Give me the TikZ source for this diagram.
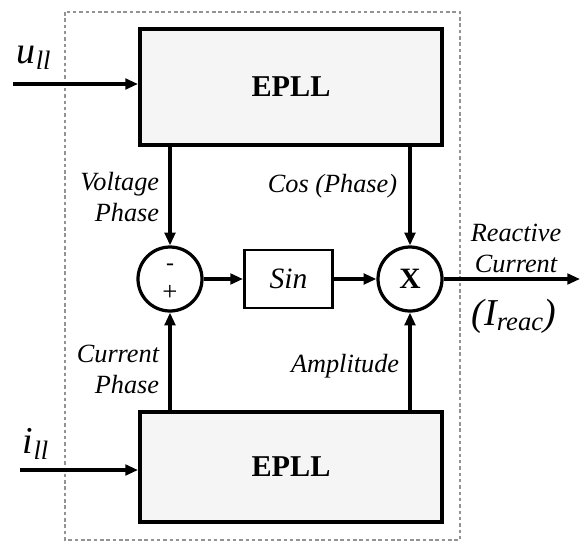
\documentclass[tikz,border=0pt]{standalone}
\usepackage{fontspec}
\setmainfont{Liberation Serif}
\usepackage{tikz}
\usetikzlibrary{arrows.meta}
\usetikzlibrary{positioning}

\tikzset{
    eplbox/.style={draw, line width=2.8pt, fill=gray!8, minimum width=7.55cm,
        font=\fontsize{21.5}{23}\selectfont\bfseries},
    sinbox/.style={draw, line width=2pt, minimum width=2.2cm, minimum height=1.45cm,
        font=\fontsize{21}{23}\selectfont\itshape},
    opcirc/.style={draw, circle, line width=2.3pt, minimum size=1.6cm, inner sep=0pt},
    flow/.style={line width=2.2pt, -{Triangle[length=9pt, width=7.5pt]}},
    lbl/.style={font=\fontsize{18.7}{22}\selectfont\itshape, inner sep=1pt}
}

\begin{document}
\begin{tikzpicture}
    \useasboundingbox (0,0) rectangle (14.525,-13.65);

    % Outer dashed frame
    \draw[gray!85, line width=1.2pt, dash pattern=on 2.5pt off 2pt] (1.625,-0.3) rectangle (11.5,-13.5);

    % The two EPLL blocks
    \node[eplbox, minimum height=2.9cm] (epllu) at (7.275,-2.175) {EPLL};
    \node[eplbox, minimum height=2.75cm] (eplli) at (7.275,-11.675) {EPLL};

    % Summing junction, sine and multiplier
    \node[opcirc] (sum) at (4.25,-6.975) {};
    \node[font=\fontsize{17}{18}\selectfont] (minus) at (4.25,-6.68) {-};
    \node[font=\fontsize{19}{20}\selectfont] (plus) at (4.25,-7.32) {+};
    \node[sinbox] (sine) at (7.21,-6.975) {Sin};
    \node[opcirc, font=\fontsize{21}{23}\selectfont\bfseries] (mult) at (10.25,-6.975) {X};

    % Inputs and output
    \coordinate (uin) at (0.325,-2.1);
    \coordinate (iin) at (0.5,-11.75);
    \coordinate (iout) at (14.5,-6.975);
    \node[font=\fontsize{27}{28}\selectfont\itshape] (ulbl) at (0.85,-1.45) {u\textsubscript{ll}};
    \node[font=\fontsize{27}{28}\selectfont\itshape] (ilbl) at (0.9,-11.1) {i\textsubscript{ll}};

    \draw[flow] (uin) -- (uin -| epllu.west);
    \draw[flow] (iin) -- (iin -| eplli.west);

    % Phase and amplitude paths
    \draw[flow] (epllu.south -| sum) -- (sum.north);
    \draw[flow] (epllu.south -| mult) -- (mult.north);
    \draw[flow] (eplli.north -| sum) -- (sum.south);
    \draw[flow] (eplli.north -| mult) -- (mult.south);

    \draw[flow] (sum.east) -- (sine.west);
    \draw[flow] (sine.east) -- (mult.west);
    \draw[flow] (mult.east) -- (iout);

    % Signal names
    \node[lbl, align=right, anchor=east] (vph) at (4.02,-4.93) {Voltage\\Phase};
    \node[lbl, anchor=east] (cosph) at (9.97,-4.65) {Cos (Phase)};
    \node[lbl, align=right, anchor=east] (cph) at (4.02,-9.225) {Current\\Phase};
    \node[lbl, anchor=east] (ampl) at (10.02,-9.15) {Amplitude};
    \node[lbl, align=center] (react) at (12.9,-6.2) {Reactive\\Current};
    \node[font=\fontsize{27}{29}\selectfont\itshape] (ireac) at (12.85,-7.9) {(I\textsubscript{reac})};
\end{tikzpicture}
\end{document}
